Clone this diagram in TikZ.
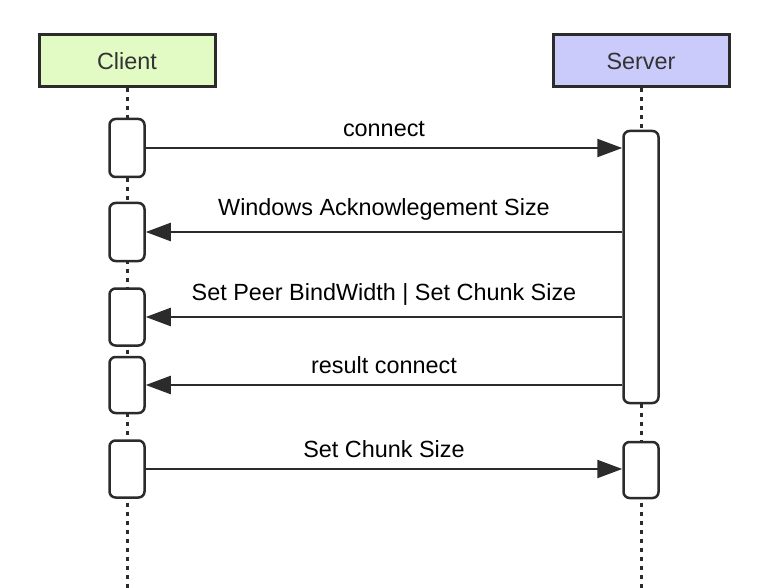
\documentclass[tikz,border=0pt]{standalone}
\usepackage{fontspec}
\setmainfont{Liberation Sans}
\usetikzlibrary{arrows.meta,calc}
\definecolor{clgreen}{HTML}{E2FAC4}
\definecolor{svpurple}{HTML}{CACBFA}
\definecolor{dkgray}{HTML}{2B2B2B}
\definecolor{txgray}{HTML}{333333}

\begin{document}
\begin{tikzpicture}[x=1pt,y=-1pt,font=\fontsize{23.4}{27}\selectfont,
  actor/.style={draw=dkgray,line width=3pt,minimum width=176pt,minimum height=52pt,text=txgray},
  actbox/.style={draw=dkgray,fill=white,line width=2.5pt,rounded corners=6pt,minimum width=35pt,inner sep=0pt},
  lifeline/.style={dkgray,line width=3pt,dash pattern=on 4pt off 5pt},
  msg/.style={dkgray,line width=2.3pt,-{Triangle[length=25pt,width=18pt]}},
  msglabel/.style={midway,above=10pt,text=black,inner sep=0pt}]

  \useasboundingbox (0,0) rectangle (784,588);

  % =====================================================================
  % 1. PARTICIPANTS & LIFELINES
  % =====================================================================

  \node[actor,fill=clgreen] (client) at (127,61) {Client};
  \node[actor,fill=svpurple] (server) at (641,61) {Server};

  \draw[lifeline] (client.south) -- (127,588);
  \draw[lifeline] (server.south) -- (641,588);

  % Client activations
  \node[actbox,minimum height=58pt] (c1) at (127,148) {};
  \node[actbox,minimum height=58pt] (c2) at (127,232) {};
  \node[actbox,minimum height=57pt] (c3) at (127,317) {};
  \node[actbox,minimum height=56pt] (c4) at (127,385) {};
  \node[actbox,minimum height=57pt] (c5) at (127,469) {};

  % Server activations
  \node[actbox,minimum height=272pt] (s1) at (641,267) {};
  \node[actbox,minimum height=56pt] (s2) at (641,470) {};

  % =====================================================================
  % 2. MESSAGES
  % =====================================================================

  \draw[msg] (c1.east) -- (c1.east -| s1.west)
        node[msglabel] {connect};
  \draw[msg] (c2.east -| s1.west) -- (c2.east)
        node[msglabel] {Windows Acknowlegement Size};
  \draw[msg] (c3.east -| s1.west) -- (c3.east)
        node[msglabel] {Set Peer BindWidth | Set Chunk Size};
  \draw[msg] (c4.east -| s1.west) -- (c4.east)
        node[msglabel] {result connect};
  \draw[msg] (c5.east) -- (c5.east -| s2.west)
        node[msglabel] {Set Chunk Size};

\end{tikzpicture}
\end{document}
